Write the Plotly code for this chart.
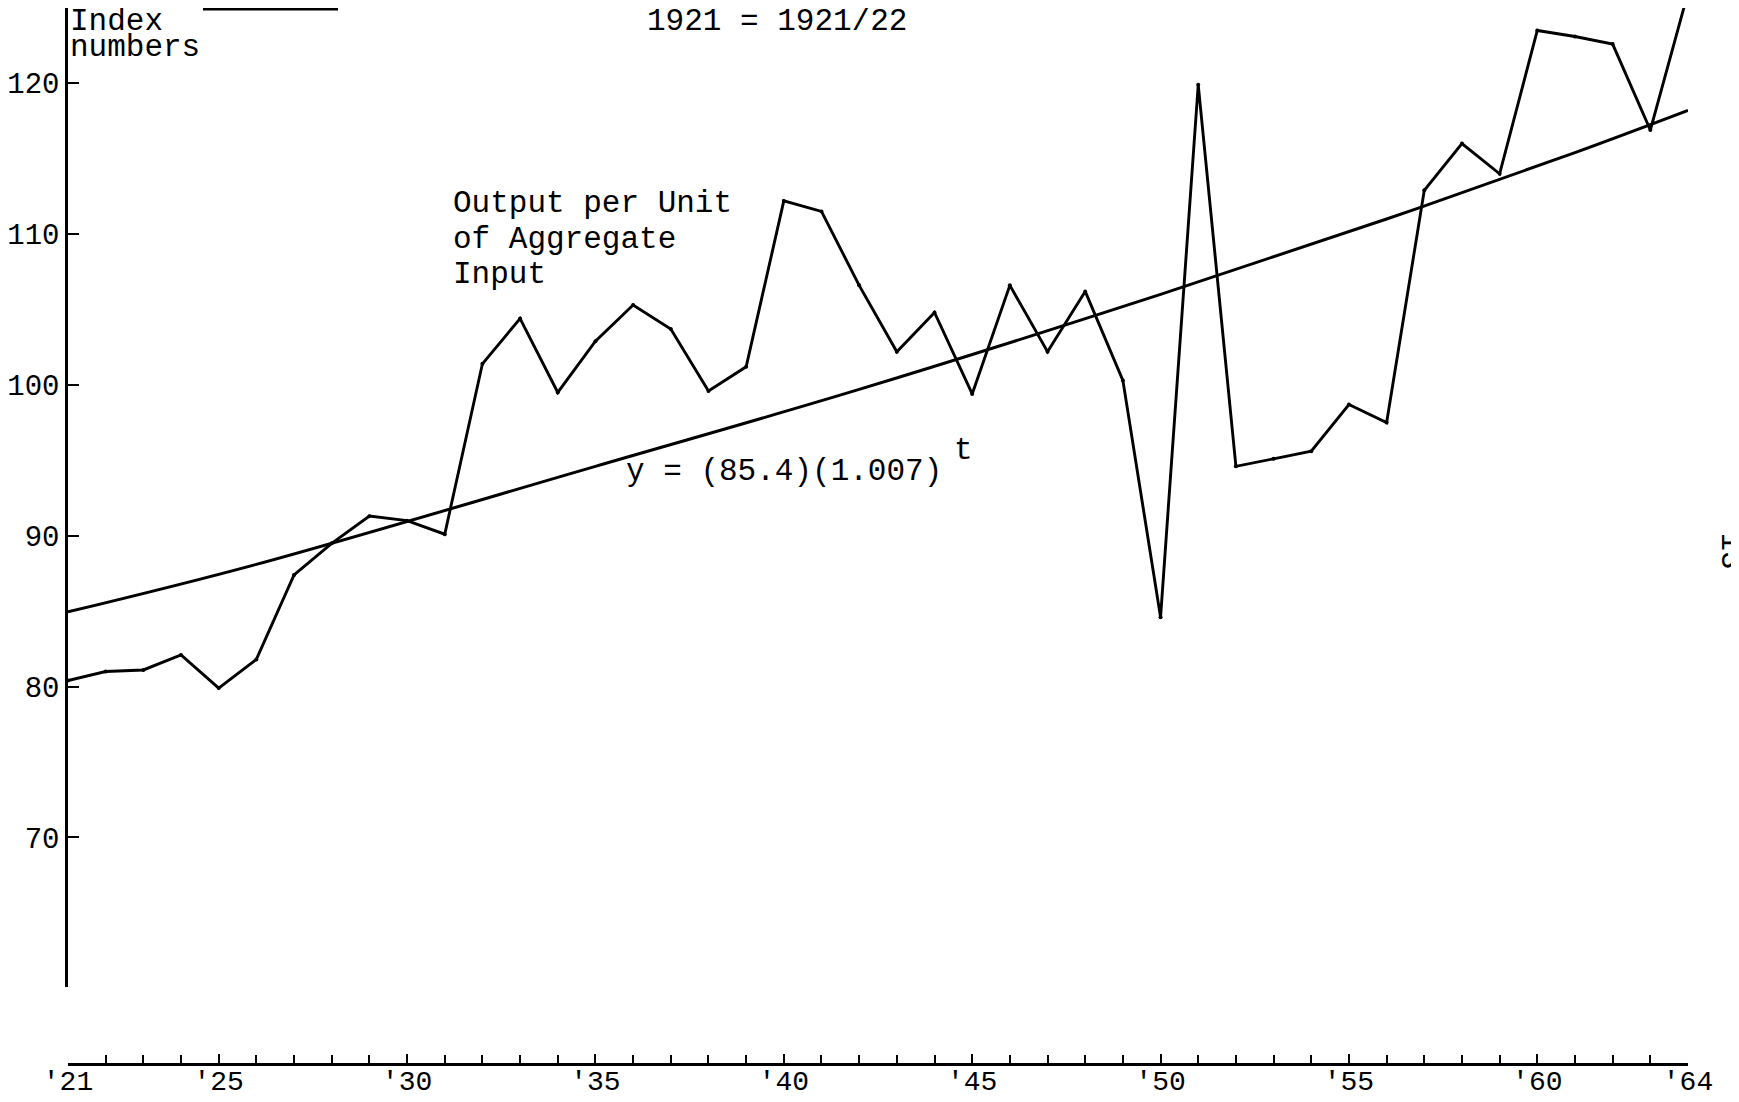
import plotly.graph_objects as go

# output per unit of aggregate input, index numbers (1921 = 1921/22)
years = list(range(1921, 1965))
output_index = [
    80.4, 81.0, 81.1, 82.1, 79.9, 81.8, 87.4, 89.5, 91.3, 91.0,
    90.1, 101.4, 104.4, 99.5, 102.9, 105.3, 103.7, 99.6, 101.2, 112.2,
    111.5, 106.6, 102.2, 104.8, 99.4, 106.6, 102.2, 106.2, 100.3, 84.6,
    119.9, 94.6, 95.1, 95.6, 98.7, 97.5, 112.9, 116.0, 114.0, 123.5,
    123.1, 122.6, 116.9, 126.0,
]

# fitted trend y = (85.4)(1.007)^t, as drawn on the chart
trend_years = [1921, 1926, 1935, 1942, 1950, 1956, 1961, 1964]
trend_vals = [84.95, 88.1, 94.6, 99.7, 106.0, 111.0, 115.4, 118.2]

y_ticks = [70, 80, 90, 100, 110, 120]
x_ticks = [1921, 1925, 1930, 1935, 1940, 1945, 1950, 1955, 1960, 1964]
x_labels = ["'21", "'25", "'30", "'35", "'40", "'45", "'50", "'55", "'60", "'64"]

FONT = "Liberation Mono, Courier New, monospace"
# the page puts the figure 8px in from the window corner
OFF = 8
W, H = 1739 - OFF, 1102 - OFF
L, R, T, B = 60, 51, 0, 38


def px(x):
    # window pixel -> paper x
    return (x - OFF - L) / (W - L - R)


def py(y):
    # window pixel -> paper y
    return (H - B - (y - OFF)) / (H - T - B)


fig = go.Figure()
fig.add_trace(go.Scatter(
    x=trend_years, y=trend_vals, mode="lines",
    line=dict(color="black", width=3, shape="spline"),
    hoverinfo="skip",
))
fig.add_trace(go.Scatter(
    x=years, y=output_index, mode="lines+markers",
    line=dict(color="black", width=2.9),
    marker=dict(color="black", size=4),
))


def label(text, x, y, size=31, **kw):
    fig.add_annotation(
        text=text, xref="paper", yref="paper", x=px(x), y=py(y),
        xanchor=kw.pop("xanchor", "left"), yanchor="middle",
        showarrow=False, font=dict(family=FONT, size=size, color="black"), **kw
    )


label("Index", 68, 21)
label("numbers", 68, 47)
label("1921 = 1921/22", 645, 21)
label("Output per Unit", 451, 204)
label("of Aggregate", 451, 239)
label("Input", 451, 274)
label("y = (85.4)(1.007)", 624, 471)
label("t", 952, 450)
label("13", 1711, 551, textangle=90)

# fragment of the underlined heading cut off at the top of the page
fig.add_shape(type="line", xref="paper", yref="paper",
              x0=px(203), x1=px(338), y0=py(9), y1=py(9),
              line=dict(color="black", width=3))

fig.update_layout(
    width=W, height=H,
    margin=dict(l=L, r=R, t=T, b=B),
    paper_bgcolor="white", plot_bgcolor="white",
    showlegend=False,
    font=dict(family=FONT, color="black"),
    xaxis=dict(
        range=[1921, 1964], anchor="free", position=0,
        showgrid=False, zeroline=False,
        showline=True, linecolor="black", linewidth=2.5,
        ticks="inside", ticklen=9, tickwidth=1.5, tickcolor="black",
        tickvals=x_ticks, ticktext=x_labels,
        tickfont=dict(family=FONT, size=28, color="black"),
        ticklabelstandoff=-9,
        minor=dict(dtick=1, tick0=1921, ticks="inside", ticklen=8,
                   tickwidth=1.5, tickcolor="black", showgrid=False),
    ),
    yaxis=dict(
        range=[60.08, 124.99], domain=[py(987), 1],
        showgrid=False, zeroline=False,
        showline=True, linecolor="black", linewidth=2.5,
        ticks="inside", ticklen=11, tickwidth=1.5, tickcolor="black",
        tickvals=y_ticks,
        tickfont=dict(family=FONT, size=29, color="black"),
        ticklabelstandoff=0,
    ),
)

fig.write_html("out.html")
